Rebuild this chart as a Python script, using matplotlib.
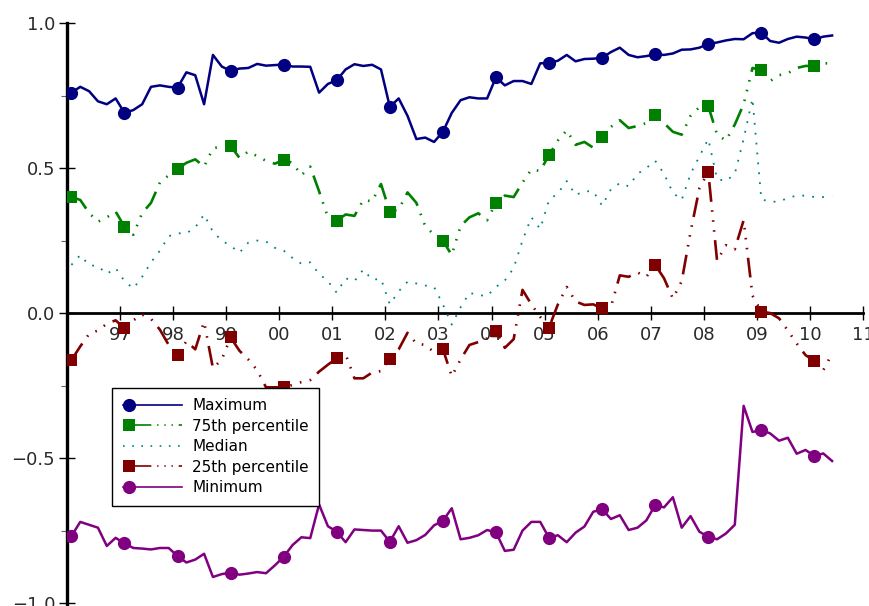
import numpy as np
import matplotlib
matplotlib.use("Agg")
import matplotlib.pyplot as plt
from matplotlib.legend_handler import HandlerLine2DCompound

# bimonthly samples, Feb 1996 .. Jun 2010
months = np.arange(87) * 2 + 1
years = 1996 + months / 12.0

maximum = [
    0.76, 0.78, 0.765, 0.73, 0.72, 0.74, 0.69, 0.70, 0.72, 0.78,
    0.785, 0.78, 0.777, 0.83, 0.82, 0.72, 0.89, 0.85, 0.835, 0.843,
    0.845, 0.859, 0.853, 0.855, 0.857, 0.85, 0.85, 0.849, 0.76, 0.79,
    0.803, 0.84, 0.858, 0.852, 0.856, 0.84, 0.711, 0.74, 0.68, 0.60,
    0.605, 0.59, 0.625, 0.69, 0.734, 0.744, 0.74, 0.74, 0.813, 0.785,
    0.80, 0.80, 0.79, 0.861, 0.863, 0.87, 0.89, 0.868, 0.876, 0.877,
    0.88, 0.90, 0.915, 0.89, 0.882, 0.886, 0.892, 0.89, 0.895, 0.908,
    0.909, 0.915, 0.928, 0.933, 0.94, 0.945, 0.944, 0.965, 0.967, 0.938,
    0.932, 0.945, 0.953, 0.95, 0.944, 0.953, 0.957,
]
pct75 = [
    0.40, 0.39, 0.345, 0.315, 0.33, 0.35, 0.298, 0.27, 0.345, 0.38,
    0.45, 0.475, 0.497, 0.518, 0.53, 0.505, 0.568, 0.575, 0.576, 0.535,
    0.557, 0.541, 0.525, 0.515, 0.528, 0.518, 0.475, 0.505, 0.42, 0.33,
    0.318, 0.34, 0.335, 0.39, 0.385, 0.445, 0.349, 0.357, 0.416, 0.38,
    0.30, 0.27, 0.249, 0.20, 0.30, 0.33, 0.344, 0.32, 0.38, 0.405,
    0.40, 0.45, 0.495, 0.49, 0.545, 0.595, 0.63, 0.58, 0.59, 0.57,
    0.607, 0.642, 0.665, 0.638, 0.645, 0.655, 0.683, 0.655, 0.625, 0.615,
    0.68, 0.71, 0.714, 0.615, 0.595, 0.65, 0.72, 0.845, 0.838, 0.80,
    0.82, 0.827, 0.845, 0.852, 0.852, 0.861, 0.861,
]
median = [
    0.166, 0.20, 0.165, 0.162, 0.135, 0.155, 0.11, 0.085, 0.125, 0.175,
    0.215, 0.265, 0.275, 0.275, 0.295, 0.34, 0.28, 0.25, 0.232, 0.208,
    0.243, 0.25, 0.247, 0.225, 0.215, 0.19, 0.17, 0.175, 0.135, 0.11,
    0.07, 0.12, 0.11, 0.15, 0.115, 0.118, 0.03, 0.075, 0.108, 0.102,
    0.095, 0.09, 0.03, -0.04, 0.02, 0.07, 0.062, 0.059, 0.09, 0.112,
    0.155, 0.25, 0.33, 0.29, 0.39, 0.413, 0.455, 0.407, 0.42, 0.42,
    0.37, 0.427, 0.448, 0.437, 0.48, 0.50, 0.525, 0.48, 0.415, 0.39,
    0.48, 0.54, 0.60, 0.462, 0.455, 0.48, 0.60, 0.74, 0.392, 0.384,
    0.384, 0.397, 0.405, 0.405, 0.40, 0.40, 0.403,
]
pct25 = [
    -0.162, -0.115, -0.072, -0.06, -0.037, -0.025, -0.053, -0.025, -0.005, -0.02,
    -0.057, -0.11, -0.145, -0.097, -0.125, -0.03, -0.19, -0.16, -0.084, -0.13,
    -0.16, -0.197, -0.256, -0.256, -0.256, -0.248, -0.238, -0.231, -0.202, -0.178,
    -0.156, -0.142, -0.225, -0.225, -0.205, -0.20, -0.159, -0.125, -0.068, -0.105,
    -0.11, -0.135, -0.124, -0.218, -0.16, -0.11, -0.10, -0.087, -0.061, -0.12,
    -0.09, 0.08, 0.03, -0.013, -0.05, 0.03, 0.09, 0.04, 0.028, 0.03,
    0.016, 0.022, 0.13, 0.125, 0.14, 0.125, 0.166, 0.12, 0.05, 0.11,
    0.28, 0.43, 0.487, 0.18, 0.234, 0.22, 0.32, 0.06, 0.005, 0.0,
    -0.018, -0.06, -0.105, -0.145, -0.165, -0.197, -0.14,
]
minimum = [
    -0.769, -0.72, -0.73, -0.74, -0.803, -0.775, -0.794, -0.81, -0.812, -0.815,
    -0.81, -0.81, -0.838, -0.86, -0.85, -0.83, -0.91, -0.90, -0.895, -0.902,
    -0.898, -0.893, -0.897, -0.87, -0.84, -0.80, -0.773, -0.776, -0.66, -0.735,
    -0.754, -0.79, -0.746, -0.748, -0.75, -0.75, -0.789, -0.735, -0.792, -0.783,
    -0.765, -0.732, -0.716, -0.673, -0.78, -0.775, -0.766, -0.748, -0.756, -0.82,
    -0.816, -0.75, -0.72, -0.72, -0.775, -0.766, -0.79, -0.757, -0.736, -0.685,
    -0.677, -0.71, -0.697, -0.748, -0.74, -0.715, -0.662, -0.67, -0.635, -0.74,
    -0.70, -0.754, -0.771, -0.78, -0.76, -0.73, -0.32, -0.41, -0.403, -0.415,
    -0.44, -0.43, -0.485, -0.472, -0.493, -0.484, -0.51,
]

series_names = ["Maximum", "75th percentile", "Median", "25th percentile", "Minimum"]
year_ticks = list(range(1997, 2012))
year_labels = ["%02d" % (y % 100) for y in year_ticks]
y_ticks = [-1.0, -0.5, 0.0, 0.5, 1.0]
y_labels = ["\u22121.0", "\u22120.5", "0.0", "0.5", "1.0"]

# long dash followed by three dots
dash_dot3 = (0, (7.5, 3.2, 0.6, 3.2, 0.6, 3.2, 0.6, 3.2))
legend_dash_dot3 = (0, (17, 3.5, 0.8, 3.5, 0.8, 3.5, 0.8, 3.5))

fig = plt.figure(figsize=(8.7, 6.06), dpi=100)
ax = fig.add_axes([0.077, 0.0, 0.915, 0.962])

styles = [
    dict(color="#000080", ls="-", lw=1.8, marker="o", ms=9.5),
    dict(color="#008000", ls=dash_dot3, lw=1.9, marker="s", ms=9),
    dict(color="#008080", ls=(0, (1, 4.5)), lw=1.3, marker=None, ms=0),
    dict(color="#800000", ls=dash_dot3, lw=1.9, marker="s", ms=9),
    dict(color="#800080", ls="-", lw=1.8, marker="o", ms=9.5),
]
handles = []
for vals, name, st in zip([maximum, pct75, median, pct25, minimum], series_names, styles):
    ln, = ax.plot(years, vals, color=st["color"], linestyle=st["ls"], linewidth=st["lw"],
                  marker=st["marker"], markersize=st["ms"], markevery=6,
                  markeredgewidth=0, label=name, zorder=3)
    handles.append(ln)

ax.set_xlim(1996, 2011)
ax.set_ylim(-1.01, 1.0)

for s in ["top", "right"]:
    ax.spines[s].set_visible(False)
ax.spines["bottom"].set_position(("data", 0))
ax.spines["bottom"].set_linewidth(2.0)
ax.spines["left"].set_linewidth(2.4)

ax.set_xticks(year_ticks, labels=year_labels)
ax.tick_params(axis="x", direction="inout", length=10, width=1.0, pad=4,
               labelsize=13, labelcolor="#2a2a2a")
ax.set_yticks(y_ticks, labels=y_labels)
ax.set_yticks([-0.75, -0.25, 0.25, 0.75], minor=True)
ax.tick_params(axis="y", which="major", direction="inout", length=11, width=1.0,
               pad=3, labelsize=13, labelcolor="#2a2a2a")
ax.tick_params(axis="y", which="minor", direction="out", length=4, width=0.8,
               color="#666666")


class MarkerFirst(HandlerLine2DCompound):
    # legend entry with the marker at the start of the line sample
    def get_xdata(self, legend, xdescent, ydescent, width, height, fontsize):
        return [-xdescent, -xdescent + width], [-xdescent + 0.1 * width]


leg = ax.legend(handles=handles, loc="lower left", bbox_to_anchor=(0.0565, 0.1715),
                borderaxespad=0, fontsize=11, handlelength=3.9, handletextpad=0.65,
                labelspacing=0.36, borderpad=0.7, fancybox=False, framealpha=1,
                edgecolor="black",
                handler_map={ln: MarkerFirst() for ln in handles})
leg.get_frame().set_linewidth(1.0)
for lh in leg.get_lines():
    lh.set_linewidth(1.2)
    if lh.get_label() in ("75th percentile", "25th percentile"):
        lh.set_linestyle(legend_dash_dot3)

fig.savefig("out.png", dpi=100)
